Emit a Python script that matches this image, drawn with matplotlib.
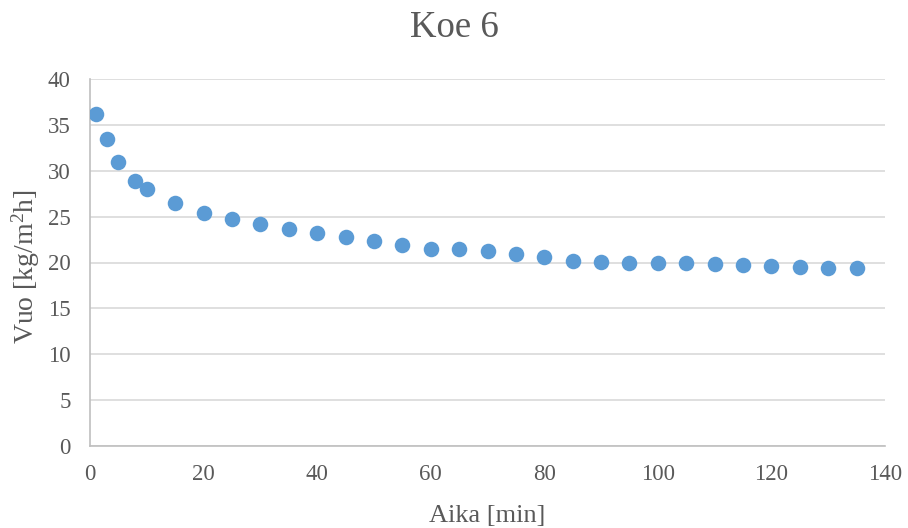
import matplotlib
matplotlib.use("Agg")
import matplotlib.pyplot as plt

aika = [1, 3, 5, 8, 10, 15, 20, 25, 30, 35, 40, 45, 50, 55, 60, 65, 70, 75, 80, 85,
        90, 95, 100, 105, 110, 115, 120, 125, 130, 135]
vuo = [36.2, 33.5, 30.9, 28.9, 28.0, 26.5, 25.4, 24.75, 24.15, 23.7, 23.2, 22.75, 22.3, 21.9,
       21.45, 21.45, 21.25, 20.95, 20.55, 20.2, 20.05, 20.0, 20.0, 19.95, 19.85, 19.75,
       19.65, 19.55, 19.45, 19.4]

plt.rcParams['font.family'] = ['Liberation Serif', 'DejaVu Serif']
plt.rcParams['mathtext.fontset'] = 'custom'
plt.rcParams['mathtext.rm'] = 'Liberation Serif'
plt.rcParams['mathtext.it'] = 'Liberation Serif:italic'
fig = plt.figure(figsize=(9.08, 5.28), dpi=100)
ax = fig.add_axes([90/908, 1-446/528, 795/908, 367/528])
ax.scatter(aika, vuo, s=125, color='#5B9BD5', zorder=3, linewidths=0)
ax.set_xlim(0, 140)
ax.set_ylim(0, 40)
ax.set_xticks(range(0, 141, 20))
ax.set_yticks(range(0, 41, 5))
ax.grid(True, axis='y', color='#D9D9D9', linewidth=1.2)
ax.set_axisbelow(True)
for s in ['top', 'right']:
    ax.spines[s].set_visible(False)
for s in ['left', 'bottom']:
    ax.spines[s].set_color('#BFBFBF')
    ax.spines[s].set_linewidth(1.2)
ax.tick_params(length=0, labelsize=16.5, colors='#595959')
ax.tick_params(axis='x', pad=13)
ax.tick_params(axis='y', pad=14)
ax.set_xlabel('Aika [min]', fontsize=19, color='#595959', labelpad=14.5)
fig.text(26/908, 1-267/528, 'Vuo [kg/m$\\mathregular{^2}$h]', rotation=90,
         ha='center', va='center', fontsize=20, color='#595959')
fig.text(0.5, 1-28/528, 'Koe 6', ha='center', va='center', fontsize=26.5, color='#595959')
fig.savefig('out.png', dpi=100)
